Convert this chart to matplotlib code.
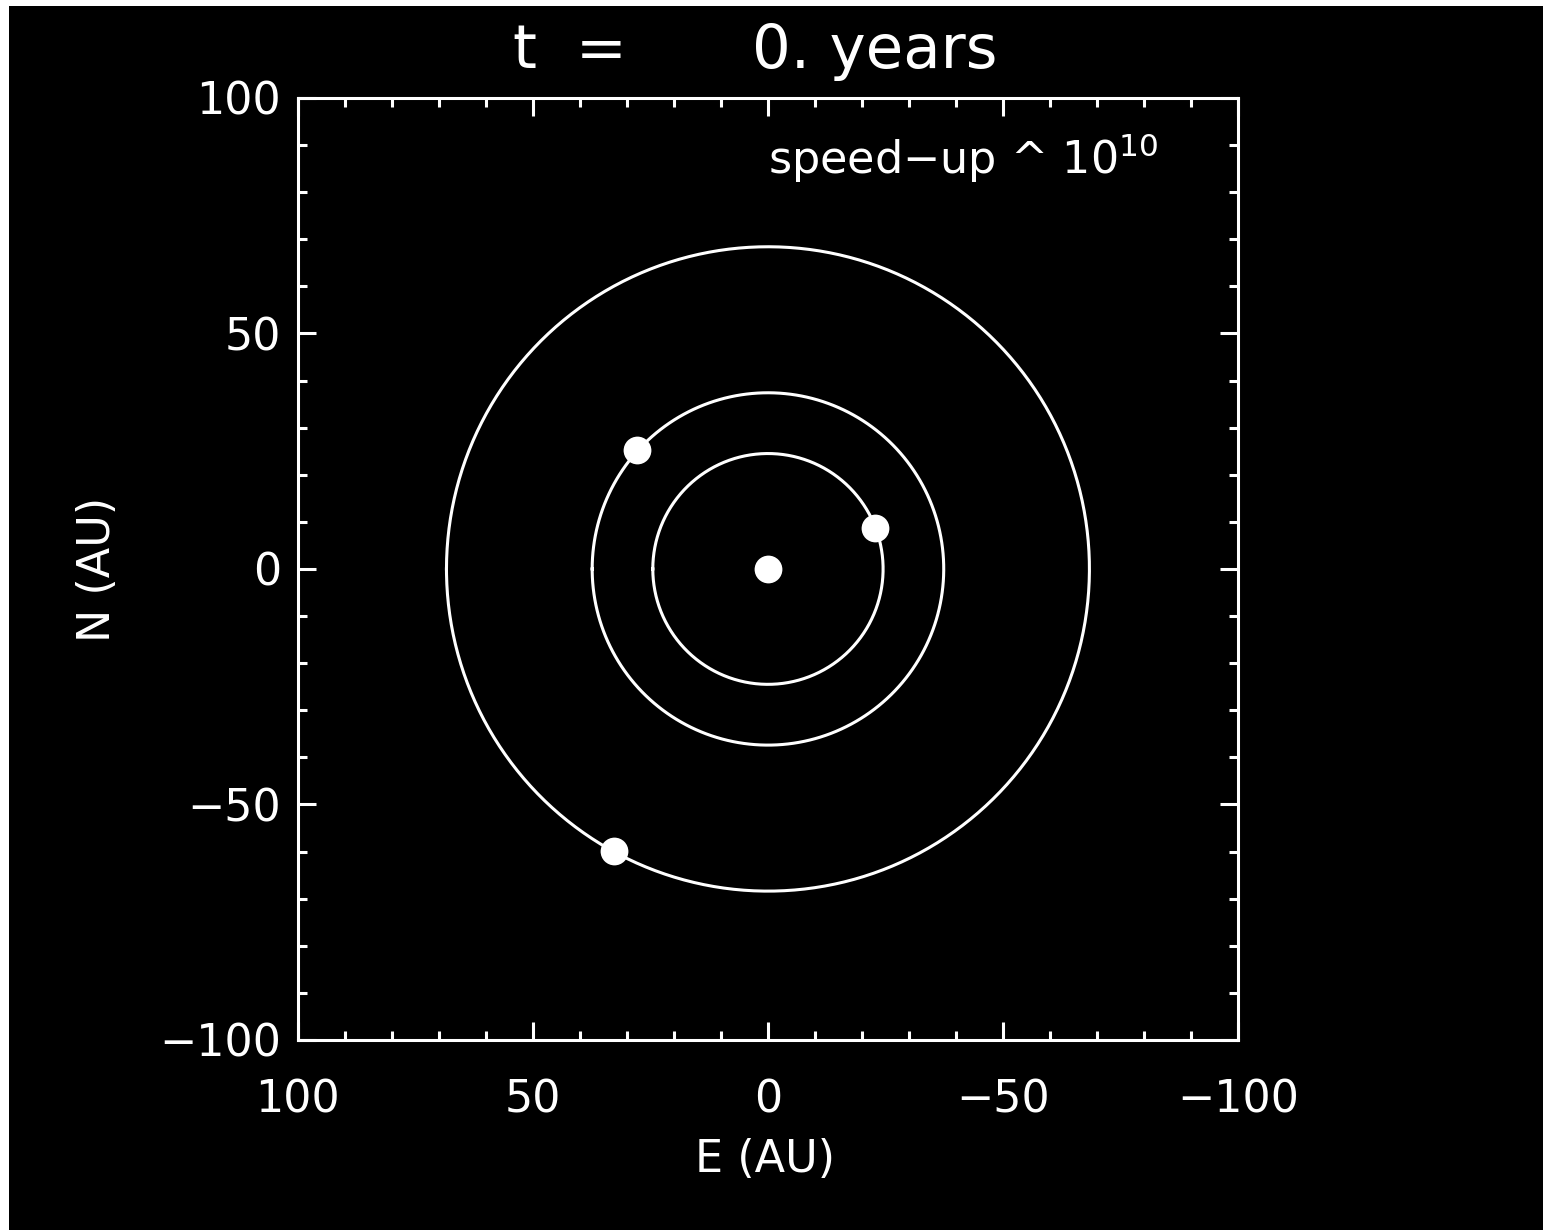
import numpy as np
import matplotlib
matplotlib.use('Agg')
import matplotlib.pyplot as plt
from matplotlib.patches import Rectangle

# ==========================
#      Orbit snapshot
# ==========================

years = 0.
orbit_radius = [24.5, 37.4, 68.4]        # AU
planet_e = [-22.8, 27.9, 32.8]           # AU (east)
planet_n = [8.7, 25.3, -59.8]            # AU (north)
star_e, star_n = [0.0], [0.0]

ticks = [100, 50, 0, -50, -100]
tick_labels = ['100', '50', '0', '\u221250', '\u2212100']


# ==========================
#        Plotting
# ==========================
plt.rcParams.update({'font.family': 'DejaVu Sans',
                     'font.size': 32,
                     'mathtext.fontset': 'dejavusans'})

fig = plt.figure(figsize=(15.43, 12.30), dpi=100, facecolor='white')
fig.patches.append(Rectangle((9/1543, 0), 1, 1 - 6/1230,
                             transform=fig.transFigure,
                             facecolor='black', edgecolor='none', zorder=-10))

ax = fig.add_axes([0.1931, 0.1545, 0.6092, 0.7659])
ax.set_facecolor('black')

theta = np.linspace(0, 2*np.pi, 400)
for r in orbit_radius:
    ax.plot(r*np.cos(theta), r*np.sin(theta), color='white', lw=2.2)

ax.plot(planet_e, planet_n, 'o', color='white', ms=20, mec='none')
ax.plot(star_e, star_n, 'o', color='white', ms=20, mec='none')

ax.set_xlim(100, -100)
ax.set_ylim(-100, 100)
ax.set_xticks(ticks)
ax.set_yticks(ticks)
ax.set_xticks(np.arange(-100, 101, 10), minor=True)
ax.set_yticks(np.arange(-100, 101, 10), minor=True)
ax.set_xticklabels(tick_labels)
ax.set_yticklabels(tick_labels)

for s in ax.spines.values():
    s.set_color('white')
    s.set_linewidth(2.2)

ax.tick_params(which='both', direction='in', top=True, right=True,
               colors='white', width=2.2)
ax.tick_params(which='major', length=13)
ax.tick_params(which='minor', length=6.5)
ax.tick_params(axis='x', which='major', pad=28)
ax.tick_params(axis='y', which='major', pad=12)

ax.text(0.5, 0.936, 'speed$-$up ^ 10$^{10}$', transform=ax.transAxes,
        color='white', fontsize=32, ha='left', va='center')

# title in two pieces: label and the elapsed time
fig.text(513/1543, 0.958, 't  =', color='white',
         ha='left', va='center', fontsize=44)
fig.text(752/1543, 0.958, '%d. years' % years, color='white',
         ha='left', va='center', fontsize=44)
fig.text(0.496, 0.057, 'E (AU)', color='white', ha='center', va='center')
fig.text(0.0635, 0.537, 'N (AU)', color='white', ha='center', va='center',
         rotation=90)

plt.savefig('out.png', dpi=100, facecolor=fig.get_facecolor())
